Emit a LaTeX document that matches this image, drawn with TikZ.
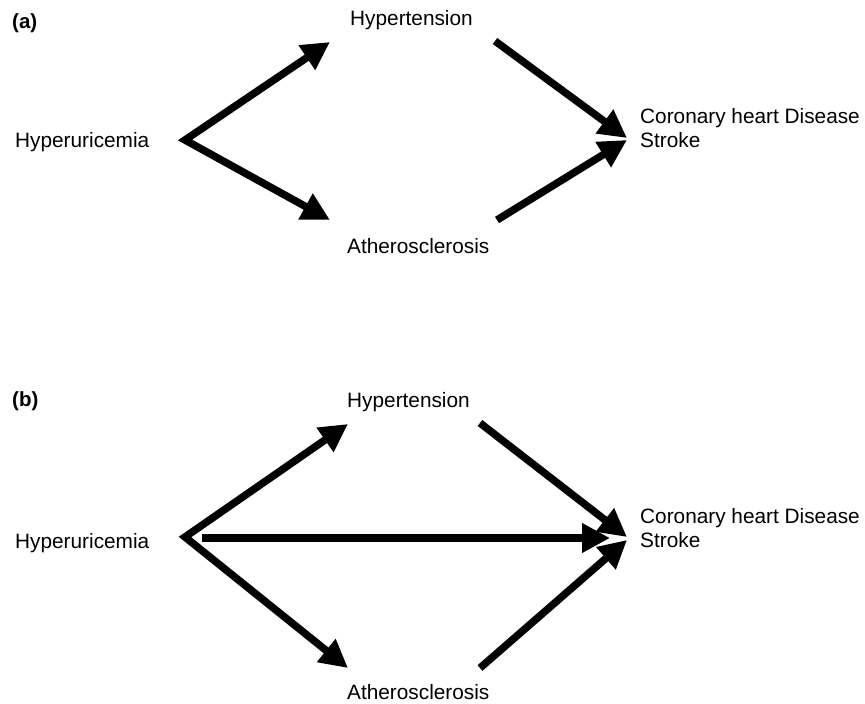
\documentclass[tikz,border=0pt]{standalone}
\usepackage{fontspec}
\setmainfont{Liberation Sans}
\usetikzlibrary{arrows.meta}

\begin{document}
\begin{tikzpicture}[x=1pt,y=-1pt,
	bigtip/.tip={Triangle[length=28pt,width=28pt]},
	lbl/.style={anchor=base west,inner sep=0pt,font=\fontsize{20.8}{24}\selectfont},
	panel/.style={lbl,font=\fontsize{20.5}{24}\selectfont\bfseries},
	link/.style={line width=7.5pt,-bigtip},
	fork/.style={line width=7.5pt,bigtip-bigtip}]
	\useasboundingbox (0,0) rectangle (865,704);

	% (a)
	\path (12,28) node [panel] (a-lab) {(a)};
	\path (15,147) node [lbl] (a-uric) {Hyperuricemia};
	\path (350,25) node [lbl] (a-hyp) {Hypertension};
	\path (347,253) node [lbl] (a-ath) {Atherosclerosis};
	\path (640,147) node [lbl,align=left] (a-chd) {Coronary heart Disease\\Stroke};
	\coordinate (a-src) at (185,140);
	\coordinate (a-hyp-in) at (330,42);
	\coordinate (a-ath-in) at (330,220);
	\coordinate (a-hyp-out) at (495,41);
	\coordinate (a-ath-out) at (497,220);
	\coordinate (a-chd-in1) at (627,138);
	\coordinate (a-chd-in2) at (627,140);
	\draw [fork] (a-hyp-in) -- (a-src) -- (a-ath-in);
	\draw [link] (a-hyp-out) -- (a-chd-in1);
	\draw [link] (a-ath-out) -- (a-chd-in2);

	% (b)
	\path (12,406) node [panel] (b-lab) {(b)};
	\path (15,548) node [lbl] (b-uric) {Hyperuricemia};
	\path (347,407) node [lbl] (b-hyp) {Hypertension};
	\path (347,699) node [lbl] (b-ath) {Atherosclerosis};
	\path (640,547) node [lbl,align=left] (b-chd) {Coronary heart Disease\\Stroke};
	\coordinate (b-src) at (185,537);
	\coordinate (b-src2) at (202,538);
	\coordinate (b-hyp-in) at (348,424);
	\coordinate (b-ath-in) at (348,668);
	\coordinate (b-hyp-out) at (480,423);
	\coordinate (b-ath-out) at (480,668);
	\coordinate (b-chd-in1) at (627,537);
	\coordinate (b-chd-in2) at (610,538);
	\coordinate (b-chd-in3) at (627,540);
	\draw [fork] (b-hyp-in) -- (b-src) -- (b-ath-in);
	\draw [link] (b-src2) -- (b-chd-in2);
	\draw [link] (b-hyp-out) -- (b-chd-in1);
	\draw [link] (b-ath-out) -- (b-chd-in3);
\end{tikzpicture}
\end{document}
